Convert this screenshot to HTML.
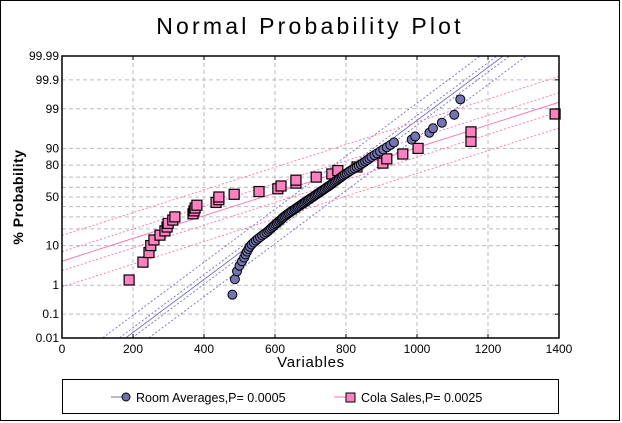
<!DOCTYPE html>
<html><head><meta charset="utf-8"><style>
html,body{margin:0;padding:0;background:#fff;}
svg{display:block;font-family:"Liberation Sans",Arial,sans-serif;}
</style></head><body>
<svg id="chart" width="622" height="423" viewBox="0 0 622 423">
<rect x="0.5" y="0.5" width="619" height="420" fill="#fff" stroke="#000"/>
<text x="310" y="34" text-anchor="middle" font-size="23" letter-spacing="3.2">Normal Probability Plot</text>
<g id="grid"></g><g id="fits"></g><g id="marks"></g><g id="axes"></g>
<text x="311" y="367" text-anchor="middle" font-size="15" letter-spacing="0.7">Variables</text>
<text transform="translate(23,197) rotate(-90)" text-anchor="middle" font-size="14" font-weight="bold" letter-spacing="0.5">% Probability</text>
<g>
<rect x="62.5" y="379.5" width="496" height="34" fill="none" stroke="#000"/>
<g>
<line x1="111" y1="397" x2="127" y2="397" stroke="#7070b0"/>
<circle cx="126" cy="397" r="4" fill="#7070b0" stroke="#000"/>
<text x="136" y="402" font-size="12.5">Room Averages,P= 0.0005</text></g>
<g>
<line x1="334" y1="397" x2="350" y2="397" stroke="#ff6fb0"/>
<rect x="346" y="393" width="9" height="9" fill="#ff80c0" stroke="#000"/>
<text x="361" y="402" font-size="12.5">Cola Sales,P= 0.0025</text></g>
</g>
</svg>
<script>
const xTicks=[0,200,400,600,800,1000,1200,1400];
const yTickLabels=["0.01","0.1","1","10","50","80","90","99","99.9","99.99"];
const yGridPct=[0.1,1,10,20,30,40,50,60,70,80,90,99,99.9];
const roomValues=[480,487,493,500,507,513,517,521,525,529,534,540,546,552,558,564,570,576,581,585,589,593,597,601,605,609,613,617,620,623,627,631,635,639,643,647,652,656,660,664,668,672,676,680,684,688,692,696,700,704,708,712,716,720,724,728,732,736,740,744,748,752,756,760,764,768,772,776,780,784,788,792,797,802,807,812,818,824,830,836,842,848,854,860,866,872,880,888,896,905,915,925,935,985,995,1035,1045,1070,1105,1122];
const colaValues=[189,228,245,250,259,276,290,296,299,312,318,369,372,375,380,434,442,442,485,555,608,617,659,659,716,760,777,831,904,915,960,1003,1152,1152,1389];
const roomFit=[711,143];
const roomBands=[18,65];
const colaFit=[565,334];
const colaBands=[0.25,0.68];

const NS='http://www.w3.org/2000/svg';
const X0=62,X1=559,Y0=56,Y1=338;
function xs(v){return X0+(v/1400)*(X1-X0);}
function probit(p){
 const a=[-39.69683028665376,220.9460984245205,-275.9285104469687,138.357751867269,-30.66479806614716,2.506628277459239];
 const b=[-54.47609879822406,161.5858368580409,-155.6989798598866,66.80131188771972,-13.28068155288572];
 const c=[-0.007784894002430293,-0.3223964580411365,-2.400758277161838,-2.549732539343734,4.374664141464968,2.938163982698783];
 const d=[0.007784695709041462,0.3224671290700398,2.445134137142996,3.754408661907416];
 const pl=0.02425;let q,r;
 if(p<pl){q=Math.sqrt(-2*Math.log(p));return (((((c[0]*q+c[1])*q+c[2])*q+c[3])*q+c[4])*q+c[5])/((((d[0]*q+d[1])*q+d[2])*q+d[3])*q+1);}
 if(p>1-pl){q=Math.sqrt(-2*Math.log(1-p));return -(((((c[0]*q+c[1])*q+c[2])*q+c[3])*q+c[4])*q+c[5])/((((d[0]*q+d[1])*q+d[2])*q+d[3])*q+1);}
 q=p-0.5;r=q*q;return (((((a[0]*r+a[1])*r+a[2])*r+a[3])*r+a[4])*r+a[5])*q/(((((b[0]*r+b[1])*r+b[2])*r+b[3])*r+b[4])*r+1);
}
const ZMAX=probit(0.9999);
function yz(z){return (Y0+Y1)/2 - z*((Y1-Y0)/2)/ZMAX;}
function yp(pct){return yz(probit(pct/100));}
function mk(tag,attrs,parent){const e=document.createElementNS(NS,tag);for(const k in attrs)e.setAttribute(k,attrs[k]);parent.appendChild(e);return e;}
const grid=document.getElementById('grid'),fits=document.getElementById('fits'),marks=document.getElementById('marks'),axes=document.getElementById('axes');

xTicks.forEach(t=>{
 if(t>0&&t<1400){const l=mk('line',{x1:xs(t),x2:xs(t),y1:Y0,y2:Y1,stroke:'#bbb','stroke-dasharray':'4,3'},grid);
 
 }
 const tx=mk('text',{x:xs(t),y:Y1+15,'text-anchor':'middle','font-size':'12'},axes);tx.textContent=t;
 
 
 mk('line',{x1:xs(t),x2:xs(t),y1:Y0,y2:Y0+4,stroke:'#000'},axes);
 mk('line',{x1:xs(t),x2:xs(t),y1:Y1,y2:Y1-4,stroke:'#000'},axes);
});
yGridPct.forEach(p=>{
 const l=mk('line',{x1:X0,x2:X1,y1:yp(p),y2:yp(p),stroke:'#bbb','stroke-dasharray':'4,3'},grid);
 
 
 mk('line',{x1:X1-4,x2:X1,y1:yp(p),y2:yp(p),stroke:'#000'},axes);
});
yTickLabels.forEach(s=>{
 const tx=mk('text',{x:X0-3,y:yp(parseFloat(s))+4,'text-anchor':'end','font-size':'12'},axes);tx.textContent=s;
 
 
});
const frame=mk('rect',{x:X0,y:Y0,width:X1-X0,height:Y1-Y0,fill:'none',stroke:'#000','stroke-width':'1.5'},axes);



const cp=mk('clipPath',{id:'pc'},document.getElementById('chart'));mk('rect',{x:X0,y:Y0,width:X1-X0,height:Y1-Y0},cp);
fits.setAttribute('clip-path','url(#pc)');
function roomLine(off,dash,name){
 const za=-ZMAX-0.5,zb=ZMAX+0.5;
 const l=mk('line',{x1:xs(roomFit[0]+roomFit[1]*za+off),y1:yz(za),x2:xs(roomFit[0]+roomFit[1]*zb+off),y2:yz(zb),stroke:'#7070c0','stroke-width':'0.9','stroke-dasharray':dash},fits);
 
 
}
roomLine(0,'','room-fit-line');
roomBands.forEach(b=>{roomLine(b,'2,2','room-confidence-band');roomLine(-b,'2,2','room-confidence-band');});
function colaLine(off,dash,name){
 const z0=(0-colaFit[0])/colaFit[1]+off,z1=(1400-colaFit[0])/colaFit[1]+off;
 const l=mk('line',{x1:xs(0),y1:yz(z0),x2:xs(1400),y2:yz(z1),stroke:'#ff6fb0','stroke-width':'0.9','stroke-dasharray':dash},fits);
 
 
}
colaLine(0,'','cola-fit-line');
colaBands.forEach(b=>{colaLine(b,'2,2','cola-confidence-band');colaLine(-b,'2,2','cola-confidence-band');});

colaValues.forEach((v,i)=>{
 const p=(i+0.5)/colaValues.length*100;
 const r=mk('rect',{x:xs(v)-5,y:yp(p)-5,width:10,height:10,fill:'#ff80c0',stroke:'#000','stroke-width':'1.2'},marks);
 
 
});
roomValues.forEach((v,i)=>{
 const p=(i+0.5)/roomValues.length*100;
 const c=mk('circle',{cx:xs(v),cy:yp(p),r:4.5,fill:'#7474b4',stroke:'#000','stroke-width':'1'},marks);
 
 
});
</script>
</body></html>
